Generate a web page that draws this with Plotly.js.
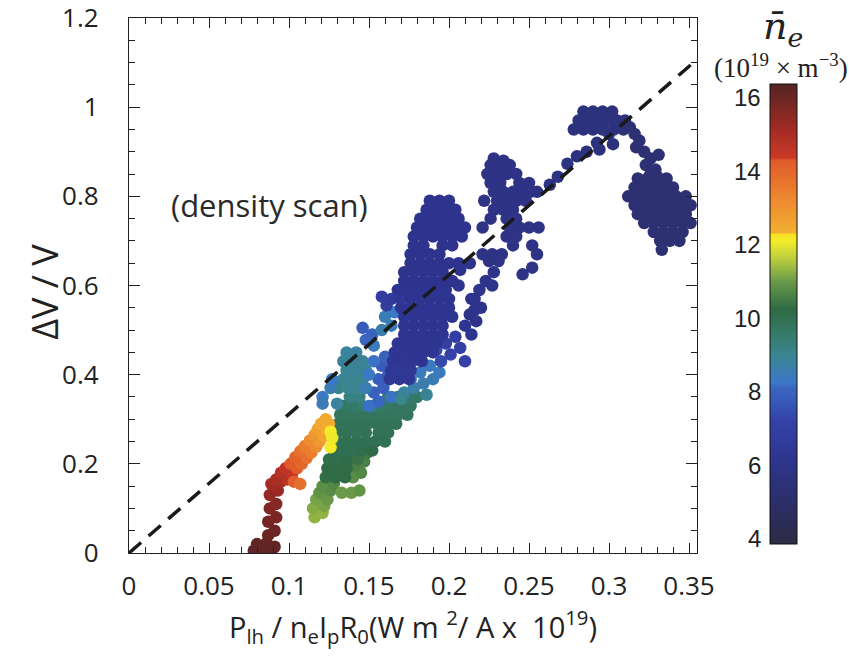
<!DOCTYPE html>
<html>
<head>
<meta charset="utf-8">
<script src="https://cdn.plot.ly/plotly-3.0.1.min.js"></script>
<style>html,body{margin:0;padding:0;background:#fff;}#chart{width:849px;height:656px;}</style>
</head>
<body>
<div id="chart"></div>
<script>
// ---- data ----
// high density: dark red -> orange -> yellow strip
const highX = [0.078,0.083,0.089,0.080,0.086,0.091, 0.087,0.091,0.087,0.092,0.088,0.092,0.088,0.093,0.089,0.095,
  0.092,0.099,0.095,0.102,0.098,0.105,0.101,0.108,0.104,0.111,0.107,0.114,0.110,0.117,0.113,0.119,0.116,0.122,0.118,0.124,0.120,0.125,0.123,0.103,0.107,0.126,0.127,0.126];
const highY = [0.005,0.005,0.005,0.02,0.022,0.014, 0.04,0.05,0.07,0.08,0.10,0.11,0.13,0.14,0.155,0.16,
  0.165,0.165,0.18,0.178,0.19,0.19,0.20,0.20,0.215,0.213,0.228,0.225,0.24,0.238,0.252,0.25,0.265,0.262,0.278,0.275,0.29,0.29,0.30,0.16,0.155,0.272,0.258,0.237];
const highN = [16.2,16.2,16.2,16.2,16.2,16.2, 16.0,16.0,15.9,15.8,15.7,15.6,15.4,15.3,15.1,15.0,
  15.0,14.7,14.8,14.5,14.6,14.3,14.3,14.0,14.1,13.8,13.8,13.5,13.5,13.2,13.2,12.9,12.9,12.6,12.7,12.45,12.5,12.4,12.45,14.2,13.8,12.1,12.05,12.1];

// green / yellow-green body
const greenX = [0.116,0.121,0.115,0.122,0.117,0.124,0.119,0.126,0.121,0.128, 0.133,0.139,0.144, 0.140,0.145,0.141,0.147,0.143,0.149,
  0.123,0.129,0.135, 0.124,0.130,0.136, 0.125,0.131,0.137,0.143, 0.128,0.134,0.140,0.146,0.152,
  0.130,0.136,0.142,0.148,0.154,0.160, 0.130,0.136,0.142,0.148,0.156,0.162, 0.131,0.137,0.143,0.149,0.155,0.161,0.167,
  0.132,0.138,0.144,0.150,0.156,0.162,0.168,0.174, 0.134,0.140,0.146,0.152,0.158,0.164,0.170,0.176, 0.138,0.144,0.162,0.168,0.174,0.180];
const greenY = [0.08,0.09,0.10,0.105,0.12,0.12,0.135,0.14,0.15,0.155, 0.135,0.135,0.14, 0.17,0.18,0.195,0.205,0.215,0.225,
  0.17,0.17,0.17, 0.19,0.19,0.19, 0.21,0.21,0.21,0.21, 0.23,0.23,0.23,0.23,0.23,
  0.25,0.25,0.25,0.25,0.25,0.25, 0.27,0.27,0.27,0.27,0.27,0.27, 0.29,0.29,0.29,0.29,0.29,0.29,0.29,
  0.31,0.31,0.31,0.31,0.31,0.31,0.31,0.31, 0.33,0.33,0.33,0.33,0.33,0.33,0.33,0.33, 0.35,0.35,0.35,0.35,0.35,0.35];
const greenN = [11.3,11.3,11.2,11.1,11.1,11.0,10.9,10.8,10.8,10.7, 11.0,11.0,10.9, 10.8,10.7,10.6,10.6,10.5,10.5,
  10.3,10.2,10.2, 10.2,10.2,10.2, 10.1,10.1,10.2,10.4, 10.1,10.0,10.0,10.1,10.2,
  10.0,10.0,10.0,10.0,10.0,10.0, 9.9,9.9,9.9,9.9,9.9,9.9, 9.9,9.9,9.9,9.9,9.9,9.9,9.9,
  9.8,9.8,9.8,9.8,9.8,9.8,9.8,9.8, 9.7,9.6,9.5,9.4,9.6,9.7,9.8,9.7, 9.2,9.2,9.6,9.6,9.6,9.6];

// teal / light blue transition
const tealX = [0.131,0.137,0.143, 0.134,0.140,0.146, 0.136,0.142,0.148, 0.134,0.140,0.146, 0.136,0.142,
  0.121,0.126,0.121,0.127,0.130, 0.146,0.152,0.148,0.153,
  0.150,0.156,0.153,0.159,0.156,0.162,0.158,0.150,0.164,0.148,0.153,0.160,
  0.172,0.178,0.184,0.190,0.176,0.182,0.188,0.170,0.194,0.186,
  0.158,0.164,0.160,0.166, 0.195,0.201,0.207,0.198,0.204,0.192,0.210];
const tealY = [0.37,0.37,0.37, 0.39,0.39,0.39, 0.41,0.41,0.41, 0.43,0.43,0.43, 0.45,0.45,
  0.35,0.37,0.335,0.39,0.335, 0.505,0.49,0.478,0.465,
  0.33,0.34,0.36,0.37,0.39,0.40,0.42,0.40,0.35,0.37,0.43,0.44,
  0.36,0.37,0.38,0.39,0.39,0.405,0.42,0.345,0.405,0.355,
  0.50,0.51,0.53,0.54, 0.43,0.445,0.46,0.47,0.485,0.455,0.43];
const tealN = [9.1,9.0,9.0, 9.0,9.0,9.0, 8.9,8.9,8.9, 8.9,8.9,8.9, 8.8,8.8,
  8.3,8.5,8.5,8.3,8.8, 7.8,8.0,8.1,8.4,
  8.2,8.1,8.0,7.9,7.9,7.8,7.8,8.3,8.2,8.5,8.2,8.0,
  8.8,8.7,8.6,8.5,8.6,8.4,8.3,9.0,8.4,8.9,
  8.6,8.5,8.5,8.3, 7.4,7.2,7.0,7.0,6.9,7.5,7.2];

// navy column around 0.16-0.21
const navyX = [0.163,0.169,0.175, 0.164,0.170,0.176, 0.165,0.171,0.177,0.183, 0.166,0.172,0.178,0.184,0.190,
  0.168,0.174,0.180,0.186,0.192, 0.172,0.178,0.184,0.190,0.196, 0.172,0.178,0.184,0.190,0.196,
  0.172,0.178,0.184,0.190,0.196,0.202, 0.170,0.176,0.182,0.188,0.194,0.200, 0.164,0.170,0.176,0.182,0.188,0.194,0.200,
  0.168,0.174,0.180,0.186,0.192,0.198, 0.172,0.178,0.184,0.190,0.196,0.202, 0.172,0.178,0.184,0.190,0.196,
  0.176,0.182,0.188,0.194,0.200,0.206, 0.176,0.182,0.188,0.194, 0.178,0.184,0.196,0.202,
  0.178,0.184,0.190,0.196,0.202,0.208, 0.180,0.186,0.192,0.198,0.204,0.210, 0.182,0.188,0.194,0.200,0.206,
  0.186,0.192,0.198,0.204, 0.188,0.194,0.200,
  0.207,0.213,0.214,0.216,0.210,0.214,0.206,0.161,0.158];
const navyY = [0.39,0.39,0.39, 0.41,0.41,0.41, 0.43,0.43,0.43,0.43, 0.45,0.45,0.45,0.45,0.45,
  0.47,0.47,0.47,0.47,0.47, 0.49,0.49,0.49,0.49,0.49, 0.51,0.51,0.51,0.51,0.51,
  0.53,0.53,0.53,0.53,0.53,0.53, 0.55,0.55,0.55,0.55,0.55,0.55, 0.57,0.57,0.57,0.57,0.57,0.57,0.57,
  0.59,0.59,0.59,0.59,0.59,0.59, 0.61,0.61,0.61,0.61,0.61,0.61, 0.63,0.63,0.63,0.63,0.63,
  0.65,0.65,0.65,0.65,0.65,0.65, 0.67,0.67,0.67,0.67, 0.69,0.69,0.69,0.69,
  0.71,0.71,0.71,0.71,0.71,0.71, 0.73,0.73,0.73,0.73,0.73,0.73, 0.75,0.75,0.75,0.75,0.75,
  0.77,0.77,0.77,0.77, 0.79,0.79,0.79,
  0.635,0.65,0.57,0.545,0.51,0.49,0.60,0.555,0.575];
const navyN = [6.4,6.4,6.4, 6.4,6.4,6.4, 6.3,6.3,6.3,6.3, 6.3,6.3,6.3,6.3,6.3,
  6.3,6.3,6.3,6.3,6.3, 6.2,6.2,6.2,6.2,6.2, 6.2,6.2,6.2,6.2,6.2,
  6.2,6.2,6.2,6.2,6.2,6.2, 6.2,6.2,6.2,6.2,6.2,6.2, 6.6,6.4,6.2,6.2,6.2,6.2,6.2,
  6.2,6.2,6.2,6.2,6.2,6.2, 6.1,6.1,6.1,6.1,6.1,6.1, 6.1,6.1,6.1,6.1,6.1,
  6.1,6.1,6.1,6.1,6.1,6.1, 6.1,6.1,6.1,6.1, 6.1,6.1,6.1,6.1,
  6.1,6.1,6.1,6.1,6.1,6.1, 6.1,6.1,6.1,6.1,6.1,6.1, 6.1,6.1,6.1,6.1,6.1,
  6.1,6.1,6.1,6.1, 6.1,6.1,6.1,
  6.1,6.1,6.1,6.1,6.2,6.2,6.1,6.8,6.8];

// cluster around 0.23 and points along the line
const midX = [0.228,0.234, 0.226,0.232,0.238, 0.224,0.230,0.236,0.242, 0.226,0.232,0.244,0.250,
  0.228,0.234,0.240,0.246,0.251, 0.222,0.230,0.236,0.242,0.248, 0.228,0.234,0.240, 0.226,0.236,0.242,
  0.221,0.238,0.244,0.250,0.256, 0.236,0.242, 0.240,0.252, 0.221,0.227,0.233,0.255, 0.225,0.231,
  0.252,0.246,0.228,0.223,0.227,0.219,0.216,0.220,0.213,0.217,
  0.255,0.263,0.268,0.274,0.280,0.286,0.2925,0.294,0.3025];
const midY = [0.885,0.88, 0.87,0.87,0.87, 0.85,0.85,0.85,0.85, 0.83,0.83,0.83,0.83,
  0.81,0.81,0.81,0.81,0.81, 0.79,0.79,0.79,0.79,0.79, 0.77,0.77,0.77, 0.75,0.75,0.75,
  0.73,0.73,0.73,0.73,0.73, 0.71,0.71, 0.69,0.69, 0.67,0.67,0.67,0.67, 0.655,0.655,
  0.64,0.625,0.63,0.61,0.60,0.59,0.57,0.55,0.535,0.52,
  0.81,0.826,0.844,0.873,0.89,0.90,0.92,0.905,0.917];
const midN = [5.9,5.9, 5.9,5.9,5.9, 5.9,5.9,5.9,5.9, 5.9,5.9,5.9,5.9,
  5.9,5.9,5.9,5.9,5.9, 5.9,5.9,5.9,5.9,5.9, 5.9,5.9,5.9, 5.9,5.9,5.9,
  5.9,5.9,5.9,5.9,5.9, 5.9,5.9, 5.9,5.9, 5.9,5.9,5.9,5.9, 5.9,5.9,
  5.9,5.9,6.0,6.0,6.0,6.0,6.0,6.0,6.0,6.0,
  5.8,5.8,5.8,5.8,5.7,5.7,5.7,5.7,5.6];

// peak near 0.3
const peakX = [0.284,0.290,0.296,0.302, 0.281,0.287,0.293,0.299,0.305,0.310, 0.278,0.284,0.290,0.296,0.303, 0.300,0.309];
const peakY = [0.99,0.99,0.99,0.99, 0.97,0.97,0.97,0.97,0.97,0.97, 0.95,0.95,0.95,0.95,0.95, 0.94,0.95];
const peakN = [5.6,5.6,5.6,5.6, 5.6,5.6,5.6,5.6,5.6,5.6, 5.6,5.6,5.6,5.6,5.6, 5.6,5.5];

// descending arm and right blob
const rightX = [0.313,0.316,0.319,0.317,0.322,0.326,0.323,0.329,0.331,0.330,0.326,
  0.318,0.324,0.330,0.336, 0.316,0.322,0.328,0.334,0.340, 0.312,0.318,0.324,0.330,0.336,0.342,0.348,
  0.316,0.322,0.328,0.334,0.340,0.346,0.351, 0.318,0.324,0.330,0.336,0.342,0.348,
  0.322,0.328,0.334,0.340,0.346,0.351, 0.328,0.334,0.340,0.346, 0.332,0.338,0.344, 0.333];
const rightY = [0.955,0.94,0.925,0.91,0.90,0.885,0.87,0.86,0.893,0.845,0.85,
  0.84,0.84,0.84,0.84, 0.82,0.82,0.82,0.82,0.82, 0.80,0.80,0.80,0.80,0.80,0.80,0.80,
  0.78,0.78,0.78,0.78,0.78,0.78,0.78, 0.76,0.76,0.76,0.76,0.76,0.76,
  0.74,0.74,0.74,0.74,0.74,0.74, 0.72,0.72,0.72,0.72, 0.70,0.70,0.70, 0.68];
const rightN = rightX.map(() => 5.3);

// dashed reference line
const lineX = [0, 0.355];
const lineY = [0, 1.107];

// colour bar
const cbMin = 3.86, cbMax = 16.38;
const cbTicks = [4, 6, 8, 10, 12, 14, 16];
const cbLines = [6.19, 8.22, 10.26, 12.3, 14.34];

// ---- build ----
const allX = [].concat(greenX, tealX, navyX, highX, midX, peakX, rightX);
const allY = [].concat(greenY, tealY, navyY, highY, midY, peakY, rightY);
const allN = [].concat(greenN, tealN, navyN, highN, midN, peakN, rightN);

const stops = [[3.86,'#2b2b45'],[5,'#2c2e68'],[6.2,'#2e3590'],[7.2,'#3442a8'],[8.1,'#3a66c0'],[8.25,'#3b78c8'],
  [9,'#3a8590'],[9.6,'#357a68'],[10.26,'#2f6a44'],[11,'#6a9a48'],[11.6,'#b8cc40'],[12.1,'#f4ec28'],[12.3,'#f8e020'],
  [12.32,'#f2b030'],[13.2,'#ee8a30'],[14.3,'#e05a2a'],[14.36,'#cc3a28'],[15.2,'#a02a24'],[16.38,'#542424']];
const colorscale = stops.map(s => [(s[0]-cbMin)/(cbMax-cbMin), s[1]]);

// plot area: 129..697 px wide, 18..553 px tall
const cbX0 = 1.1285, cbX1 = 1.176, cbY0 = 0.0168, cbLen = 0.860;
const vToPaper = v => cbY0 + (v - cbMin)/(cbMax - cbMin)*cbLen;

const scatter = {
  type: 'scatter', mode: 'markers', x: allX, y: allY,
  marker: {size: 12.5, color: allN, colorscale: colorscale, cmin: cbMin, cmax: cbMax, line: {width: 0},
    colorbar: {x: cbX0, xanchor: 'left', xpad: 0, ypad: 0, y: cbY0, yanchor: 'bottom', len: cbLen, lenmode: 'fraction',
      thickness: 27, thicknessmode: 'pixels', outlinewidth: 1, outlinecolor: '#111', showticklabels: false, ticks: ''}},
  hoverinfo: 'skip', showlegend: false
};
const line = {type: 'scatter', mode: 'lines', x: lineX, y: lineY,
  line: {color: '#1a1a1a', width: 3.5, dash: '16px,10px'}, hoverinfo: 'skip', showlegend: false};

const tickFont = {family: 'Open Sans, sans-serif', size: 26, color: '#222'};
const annotations = cbTicks.map(v => ({xref: 'paper', yref: 'paper', x: 1.1162, y: vToPaper(v), xanchor: 'right', yanchor: 'middle',
  text: String(v), showarrow: false, font: {family: 'Liberation Sans, Arial, sans-serif', size: 24, color: '#222'}}));
annotations.push({xref: 'paper', yref: 'paper', x: 0.248, y: 0.651, xanchor: 'center', yanchor: 'middle', text: '(density scan)', showarrow: false,
  font: {family: 'Open Sans, sans-serif', size: 31, color: '#2a2a2a'}});
annotations.push({xref: 'paper', yref: 'paper', x: 1.152, y: 0.98, xanchor: 'center', yanchor: 'middle', text: 'n\u0304<sub>e</sub>', showarrow: false,
  font: {family: 'DejaVu Serif, serif', size: 38, color: '#222', style: 'italic'}});
annotations.push({xref: 'paper', yref: 'paper', x: 1.148, y: 0.91, xanchor: 'center', yanchor: 'middle', text: '(10<sup>19</sup> \u00d7 m<sup>\u22123</sup>)', showarrow: false,
  font: {family: 'Liberation Serif, serif', size: 27, color: '#222'}});
// y axis title
annotations.push({xref: 'paper', yref: 'paper', x: -0.148, y: 0.488, xanchor: 'center', yanchor: 'middle', textangle: -90, text: '\u0394V / V', showarrow: false,
  font: {family: 'Open Sans, sans-serif', size: 36, color: '#222'}});

const shapes = cbLines.map(v => ({type: 'line', xref: 'paper', yref: 'paper', x0: cbX0, x1: cbX1, y0: vToPaper(v), y1: vToPaper(v),
  line: {color: '#111', width: 1.5}}));

const layout = {
  width: 849, height: 656, margin: {l: 129, r: 152, t: 18, b: 103},
  paper_bgcolor: '#fff', plot_bgcolor: '#fff',
  xaxis: {range: [0, 0.355], tickvals: [0,0.05,0.1,0.15,0.2,0.25,0.3,0.35], ticktext: ['0','0.05','0.1','0.15','0.2','0.25','0.3','0.35'],
    ticks: 'inside', ticklen: 10, tickwidth: 1, tickcolor: '#222', showline: true, linecolor: '#222', linewidth: 1.2, mirror: 'ticks',
    showgrid: false, zeroline: false, tickfont: tickFont, ticklabelstandoff: 10, ticklabeloverflow: 'allow',
    minor: {dtick: 0.01, tick0: 0, ticks: 'inside', ticklen: 6, tickcolor: '#222', showgrid: false},
    title: {text: 'P<sub>lh</sub> / n<sub>e</sub>I<sub>p</sub>R<sub>0</sub>(W m <sup>2</sup>/ A x  10<sup>19</sup>)', font: {family: 'Open Sans, sans-serif', size: 29, color: '#222'}, standoff: 14}},
  yaxis: {range: [0, 1.2], tickvals: [0,0.2,0.4,0.6,0.8,1,1.2], ticktext: ['0','0.2','0.4','0.6','0.8','1','1.2'],
    ticks: 'inside', ticklen: 11, tickwidth: 1, tickcolor: '#222', showline: true, linecolor: '#222', linewidth: 1.2, mirror: 'ticks',
    showgrid: false, zeroline: false, tickfont: tickFont, ticklabelstandoff: 24, ticklabeloverflow: 'allow',
    minor: {dtick: 0.05, tick0: 0, ticks: 'inside', ticklen: 6, tickcolor: '#222', showgrid: false}},
  annotations: annotations, shapes: shapes
};

Plotly.newPlot('chart', [scatter, line], layout, {displayModeBar: false, staticPlot: true});
</script>
</body>
</html>
